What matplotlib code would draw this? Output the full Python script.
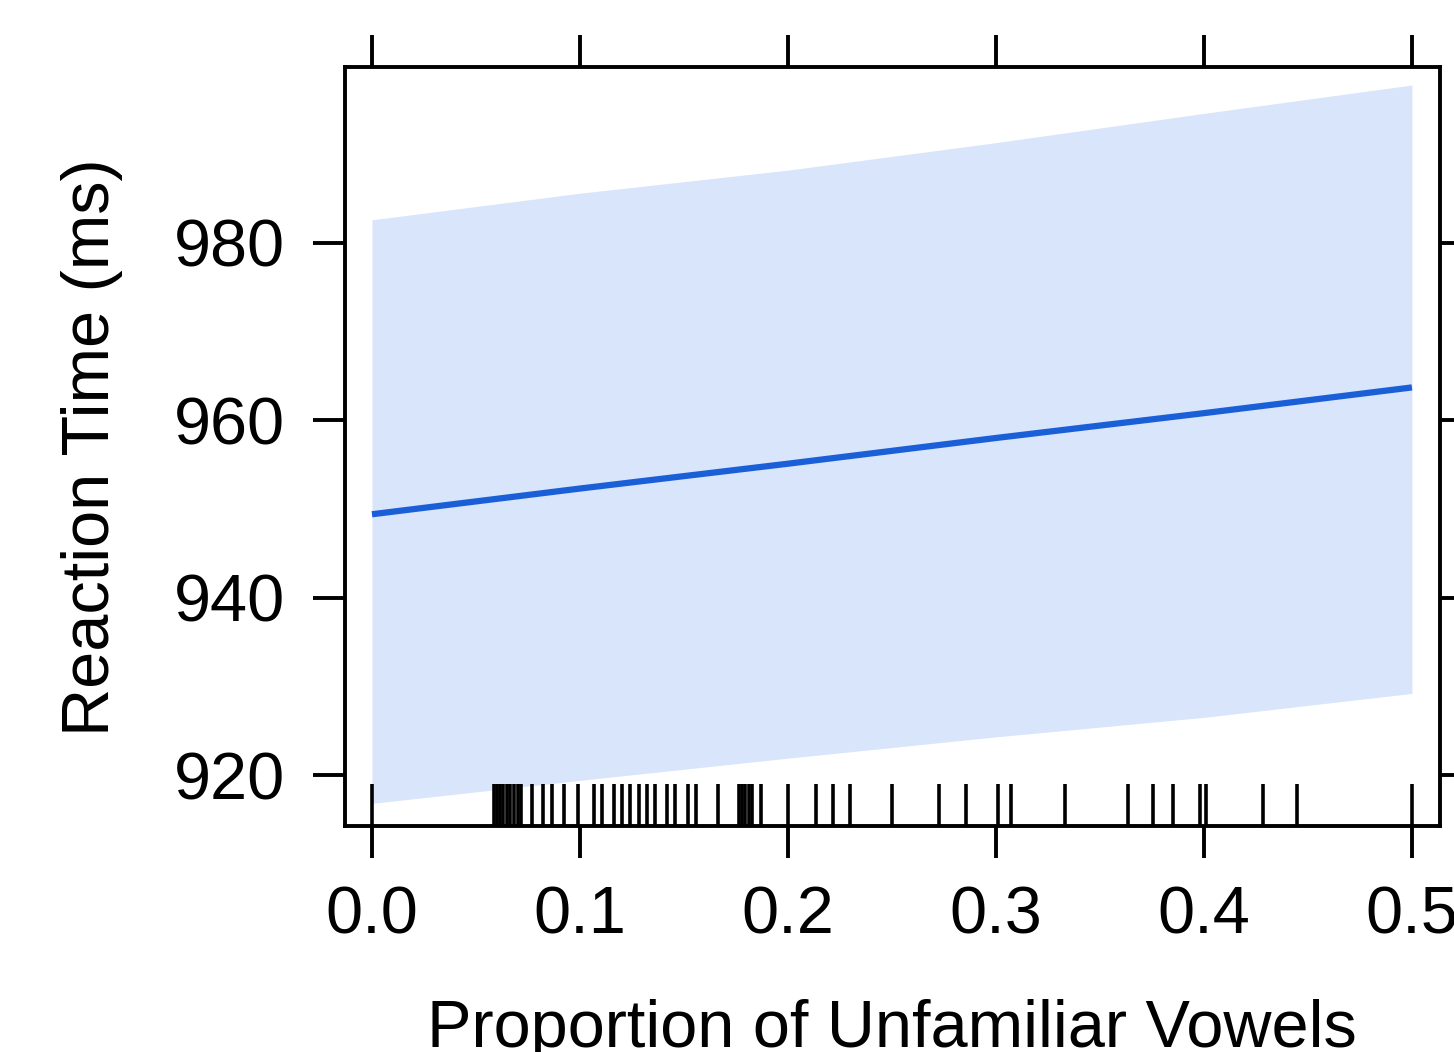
import matplotlib
matplotlib.use("Agg")
import matplotlib.pyplot as plt
import matplotlib.transforms as mtransforms

plt.rcParams['font.family'] = ['Liberation Sans', 'DejaVu Sans']

# data
x_grid = [0.0, 0.1, 0.2, 0.3, 0.4, 0.5]
fit = [949.4, 952.3, 955.1, 958.0, 960.8, 963.7]
upper = [982.6, 985.6, 988.2, 991.3, 994.6, 997.8]
lower = [916.8, 919.4, 921.9, 924.3, 926.5, 929.2]
rug = [0.0, 0.0587, 0.0601, 0.0615, 0.0630, 0.0649, 0.0663, 0.0683, 0.0702,
       0.0716, 0.0769, 0.0822, 0.0865, 0.0923, 0.0990, 0.1067, 0.1106, 0.1163,
       0.1202, 0.1240, 0.1284, 0.1322, 0.1361, 0.1418, 0.1457, 0.1519, 0.1558,
       0.1663, 0.1764, 0.1779, 0.1793, 0.1813, 0.1827, 0.1870, 0.2000, 0.2135,
       0.2216, 0.2298, 0.2500, 0.2726, 0.2856, 0.3010, 0.3072, 0.3332, 0.3635,
       0.3755, 0.3851, 0.3981, 0.4010, 0.4284, 0.4447, 0.5]
xticks = [0.0, 0.1, 0.2, 0.3, 0.4, 0.5]
xticklabels = ["0.0", "0.1", "0.2", "0.3", "0.4", "0.5"]
yticks = [920, 940, 960, 980]
yticklabels = ["920", "940", "960", "980"]

W, H = 1454, 1052
fig = plt.figure(figsize=(W / 100, H / 100), dpi=100)
ax = fig.add_axes([345 / W, 1 - 826 / H, (1440 - 345) / W, (826 - 67) / H])

ax.fill_between(x_grid, lower, upper, color='#d9e5fa', linewidth=0, zorder=1)
ax.plot(x_grid, fit, color='#1a5fd8', linewidth=4.5, zorder=3, solid_capstyle='butt')

trans = mtransforms.blended_transform_factory(ax.transData, ax.transAxes)
ax.vlines(rug, 0, 0.055, transform=trans, color='black', linewidth=2.6, zorder=4)

ax.set_xlim(-0.01298, 0.5135)
ax.set_ylim(914.25, 999.83)
ax.set_xticks(xticks)
ax.set_xticklabels(xticklabels)
ax.set_yticks(yticks)
ax.set_yticklabels(yticklabels)

for s in ax.spines.values():
    s.set_linewidth(2.8)
    s.set_color('black')

ax.tick_params(axis='both', which='major', direction='out', length=23, width=2.8,
               labelsize=48, pad=20, colors='black')
ax.tick_params(axis='x', top=True, labeltop=False)
ax.tick_params(axis='y', right=True, labelright=False)

fig.text(892 / W, 1 - 1047 / H, "Proportion of Unfamiliar Vowels", ha='center',
         va='baseline', fontsize=48)
fig.text(92 / W, 1 - 447 / H, "Reaction Time (ms)", ha='center', va='center',
         rotation=90, fontsize=48)

fig.savefig("out.png", dpi=100)
